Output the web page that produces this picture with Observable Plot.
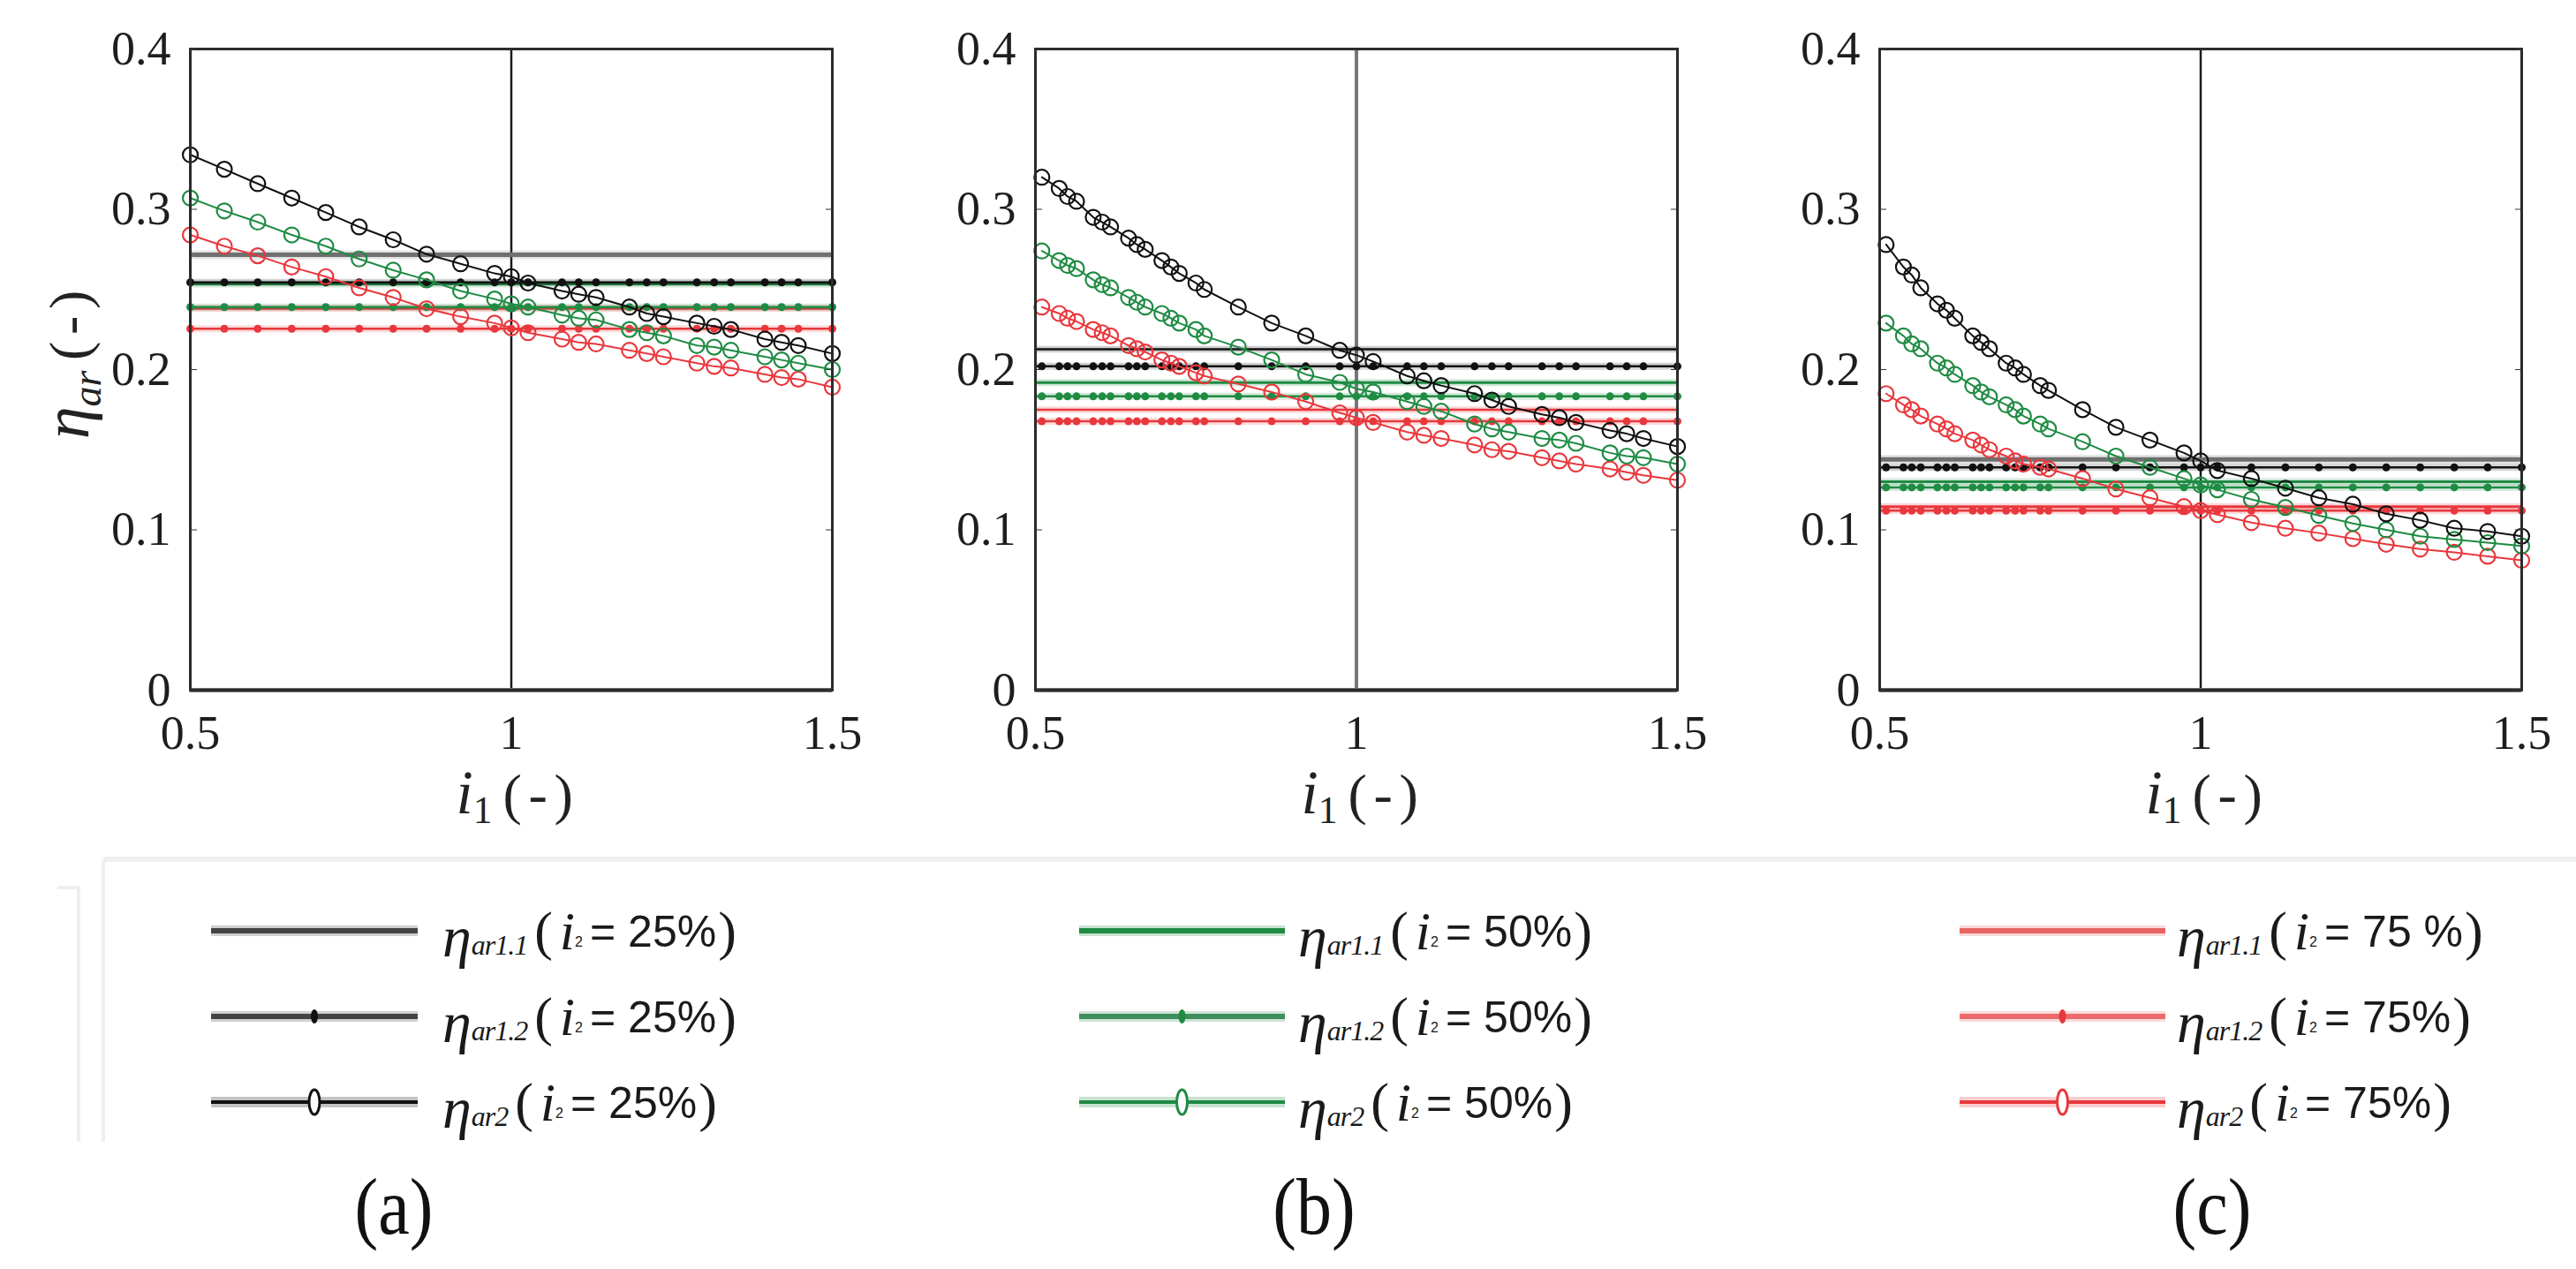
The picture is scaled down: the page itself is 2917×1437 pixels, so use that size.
<!DOCTYPE html>
<html>
<head>
<meta charset="utf-8">
<script src="https://cdn.jsdelivr.net/npm/d3@7"></script>
<script src="https://cdn.jsdelivr.net/npm/@observablehq/plot@0.6"></script>
<style>
  html, body { margin: 0; padding: 0; background: #fff; }
  #page { position: relative; width: 2917px; height: 1437px; overflow: hidden; background: #fff; font-family: "Liberation Serif", "Times New Roman", serif; color: #1a1a1a; }
  .panel { position: absolute; top: 0; }
  .xlab { position: absolute; font-size: 64px; white-space: nowrap; transform: translate(-50%, -50%); line-height: 1; color: #222; }
  .xlab i { font-style: italic; font-size: 1.08em; }
  .xlab sub { font-size: 0.68em; vertical-align: -0.25em; margin-right: 0.28em; }
  .xlab .pp { letter-spacing: 0.12em; }
  .ylab { position: absolute; font-size: 64px; white-space: nowrap; transform: translate(-50%, -50%) rotate(-90deg); line-height: 1; color: #222; }
  .ylab i { font-style: italic; font-size: 1.15em; }
  .ylab sub { font-style: italic; font-size: 0.72em; vertical-align: -0.3em; margin-right: 0.25em; }
  .ylab .pp { letter-spacing: 0.12em; }
  .plabel { position: absolute; font-size: 80px; transform: translate(-50%, -50%) scaleY(1.15); line-height: 1; color: #111; }
  .leg { position: absolute; transform: translateY(-50%); white-space: nowrap; display: flex; align-items: center; color: #1a1a1a; }
  .leg .eta { font-family: "Liberation Serif", serif; font-style: italic; font-size: 66px; line-height: 1; position: relative; top: 6px; }
  .leg .sub { font-family: "Liberation Serif", serif; font-style: italic; font-size: 32px; position: relative; top: 16px; letter-spacing: -1px; }
  .leg .par { font-family: "Liberation Serif", serif; font-size: 62px; margin-left: 8px; }
  .leg .ii { font-family: "Liberation Serif", serif; font-style: italic; font-size: 62px; margin-left: 8px; }
  .leg .sub2 { font-family: "Liberation Sans", sans-serif; font-size: 16px; position: relative; top: 12px; }
  .leg .sans { font-family: "Liberation Sans", Arial, sans-serif; font-size: 50px; margin-left: 8px; }
  .leg .par2 { font-family: "Liberation Serif", serif; font-size: 62px; margin-left: 2px; }
  .swatch { position: absolute; }
  .boxline { position: absolute; background: #efefef; }
</style>
</head>
<body>
<div id="page"></div>
<script>
// ---------- data ----------
const xTicks = [0.5, 1, 1.5];
const yTicks = [0, 0.1, 0.2, 0.3, 0.4];
const ratioLabels = ["25%", "50%", "75%"];
const ratioLabelsRow1 = ["25%", "50%", "75 %"];
const effLabels = ["ar1.1", "ar1.2", "ar2"];
const panelLabels = ["(a)", "(b)", "(c)"];

// panel (a)
const xA = [0.5, 0.553, 0.605, 0.658, 0.711, 0.763, 0.816, 0.868, 0.921, 0.974, 1.0, 1.026, 1.079, 1.105, 1.132, 1.184, 1.211, 1.237, 1.289, 1.316, 1.342, 1.395, 1.421, 1.447, 1.5];
const ar2A_25 = [0.334, 0.325, 0.316, 0.307, 0.298, 0.289, 0.281, 0.272, 0.266, 0.260, 0.258, 0.254, 0.249, 0.247, 0.245, 0.239, 0.235, 0.233, 0.229, 0.227, 0.225, 0.219, 0.217, 0.215, 0.210];
const ar2A_50 = [0.307, 0.299, 0.292, 0.284, 0.277, 0.269, 0.262, 0.256, 0.249, 0.244, 0.241, 0.239, 0.234, 0.232, 0.231, 0.225, 0.223, 0.221, 0.215, 0.214, 0.212, 0.208, 0.206, 0.204, 0.200];
const ar2A_75 = [0.284, 0.277, 0.271, 0.264, 0.258, 0.251, 0.245, 0.238, 0.233, 0.229, 0.226, 0.223, 0.219, 0.217, 0.216, 0.212, 0.210, 0.208, 0.204, 0.202, 0.201, 0.197, 0.195, 0.194, 0.189];
const ar11A = [0.2716, 0.2535, 0.2382];
const ar12A = [0.2544, 0.2390, 0.2255];

// panel (b)
const xB = [0.51, 0.537, 0.550, 0.564, 0.590, 0.604, 0.617, 0.645, 0.658, 0.671, 0.697, 0.711, 0.724, 0.750, 0.763, 0.816, 0.868, 0.921, 0.974, 1.0, 1.026, 1.079, 1.105, 1.132, 1.184, 1.211, 1.237, 1.289, 1.316, 1.342, 1.395, 1.421, 1.447, 1.5];
const ar2B_25 = [0.320, 0.313, 0.308, 0.305, 0.295, 0.292, 0.289, 0.282, 0.278, 0.275, 0.268, 0.264, 0.260, 0.254, 0.250, 0.239, 0.229, 0.221, 0.212, 0.209, 0.205, 0.196, 0.193, 0.190, 0.185, 0.181, 0.177, 0.172, 0.170, 0.167, 0.162, 0.160, 0.157, 0.152];
const ar2B_50 = [0.274, 0.268, 0.265, 0.263, 0.256, 0.253, 0.251, 0.245, 0.242, 0.239, 0.235, 0.232, 0.229, 0.225, 0.221, 0.214, 0.206, 0.197, 0.192, 0.188, 0.186, 0.180, 0.177, 0.174, 0.166, 0.163, 0.161, 0.157, 0.156, 0.154, 0.148, 0.146, 0.145, 0.141];
const ar2B_75 = [0.239, 0.235, 0.232, 0.230, 0.225, 0.223, 0.221, 0.215, 0.213, 0.211, 0.206, 0.204, 0.202, 0.198, 0.196, 0.191, 0.186, 0.180, 0.173, 0.170, 0.167, 0.161, 0.159, 0.157, 0.153, 0.150, 0.149, 0.145, 0.143, 0.141, 0.138, 0.136, 0.134, 0.131];
const ar11B = [0.2127, 0.1919, 0.1750];
const ar12B = [0.2020, 0.1833, 0.1677];

// panel (c)
const xC = [0.51, 0.537, 0.550, 0.564, 0.590, 0.604, 0.617, 0.645, 0.658, 0.671, 0.697, 0.711, 0.724, 0.750, 0.763, 0.816, 0.868, 0.921, 0.974, 1.0, 1.026, 1.079, 1.132, 1.184, 1.237, 1.289, 1.342, 1.395, 1.447, 1.5];
const ar2C_25 = [0.278, 0.264, 0.259, 0.251, 0.241, 0.237, 0.232, 0.221, 0.217, 0.213, 0.204, 0.201, 0.197, 0.190, 0.187, 0.175, 0.164, 0.156, 0.148, 0.143, 0.137, 0.132, 0.126, 0.120, 0.116, 0.110, 0.106, 0.101, 0.099, 0.096];
const ar2C_50 = [0.229, 0.221, 0.216, 0.213, 0.204, 0.201, 0.197, 0.190, 0.186, 0.183, 0.178, 0.175, 0.171, 0.166, 0.163, 0.155, 0.146, 0.139, 0.132, 0.128, 0.125, 0.119, 0.114, 0.109, 0.104, 0.100, 0.096, 0.094, 0.092, 0.090];
const ar2C_75 = [0.185, 0.178, 0.175, 0.171, 0.166, 0.163, 0.160, 0.156, 0.153, 0.150, 0.146, 0.143, 0.141, 0.139, 0.138, 0.132, 0.1255, 0.120, 0.1145, 0.112, 0.1095, 0.1045, 0.101, 0.098, 0.0945, 0.091, 0.088, 0.086, 0.0835, 0.081];
const ar11C = [0.1440, 0.1300, 0.1145];
const ar12C = [0.1390, 0.1265, 0.1120];

// ---------- styles ----------
const BLACK = "#111111", GREEN = "#1f8b43", RED = "#e8383d", GRAY = "#6f6f6f";
const COLORS = [BLACK, GREEN, RED];
const FRAME_LEFT = [215, 1172, 2128];
const ML = 215, FW = 727, MR = 14, MT = 55, FH = 726, MB = 150;
const fmt = d => String(+(+d).toFixed(2));

const panelStyles = [
  { v: { stroke: "#1a1a1a", w: 2.5 }, h11: [ { stroke: GRAY, w: 5 }, { stroke: GREEN, w: 3 }, { stroke: RED, w: 3 } ] },
  { v: { stroke: "#777777", w: 4 }, h11: [ { stroke: BLACK, w: 2.5 }, { stroke: GREEN, w: 3 }, { stroke: RED, w: 2.5 } ] },
  { v: { stroke: "#1a1a1a", w: 2.5 }, h11: [ { stroke: GRAY, w: 5 }, { stroke: GREEN, w: 3 }, { stroke: RED, w: 3 } ] }
];

const panels = [
  { xs: xA, ar2: [ar2A_25, ar2A_50, ar2A_75], ar11: ar11A, ar12: ar12A },
  { xs: xB, ar2: [ar2B_25, ar2B_50, ar2B_75], ar11: ar11B, ar12: ar12B },
  { xs: xC, ar2: [ar2C_25, ar2C_50, ar2C_75], ar11: ar11C, ar12: ar12C }
];

function makePanel(p, st) {
  const marks = [];
  marks.push(Plot.ruleX([1], { stroke: st.v.stroke, strokeWidth: st.v.w }));
  [0, 1, 2].forEach(k => {
    const c = st.h11[k];
    marks.push(Plot.ruleY([p.ar11[k]], { stroke: c.stroke, strokeWidth: c.w + 5, strokeOpacity: 0.2 }));
    marks.push(Plot.ruleY([p.ar11[k]], { stroke: c.stroke, strokeWidth: c.w }));
  });
  [0, 1, 2].forEach(k => {
    const v = p.ar12[k];
    marks.push(Plot.ruleY([v], { stroke: COLORS[k], strokeWidth: 8, strokeOpacity: 0.18 }));
    marks.push(Plot.ruleY([v], { stroke: COLORS[k], strokeWidth: 2.5 }));
    marks.push(Plot.dot(p.xs, { x: d => d, y: () => v, r: 4.5, fill: COLORS[k], stroke: "none" }));
  });
  [2, 1, 0].forEach(k => {
    const rows = p.xs.map((x, i) => ({ x, y: p.ar2[k][i] }));
    marks.push(Plot.line(rows, { x: "x", y: "y", stroke: COLORS[k], strokeWidth: 2 }));
    marks.push(Plot.dot(rows, { x: "x", y: "y", r: 8.5, stroke: COLORS[k], strokeWidth: 2.2, fill: "none" }));
  });
  marks.push(Plot.ruleY([0], { stroke: "#6e6e6e", strokeWidth: 5 }));
  marks.push(Plot.frame({ stroke: "#2b2b2b", strokeWidth: 3 }));
  marks.push(Plot.axisY({ anchor: "left", ticks: yTicks, tickFormat: fmt, tickSize: 8, insetLeft: 8, tickPadding: 22, fontSize: 54, label: null, stroke: "#333" }));
  marks.push(Plot.axisY({ anchor: "right", ticks: yTicks, tickSize: 8, insetRight: 8, tickFormat: () => "", label: null, stroke: "#333" }));
  marks.push(Plot.axisX({ anchor: "bottom", ticks: xTicks, tickFormat: fmt, tickSize: 0, tickPadding: 28, fontSize: 54, label: null }));

  return Plot.plot({
    width: ML + FW + MR,
    height: MT + FH + MB,
    marginLeft: ML, marginRight: MR, marginTop: MT, marginBottom: MB,
    x: { domain: [0.5, 1.5] },
    y: { domain: [0, 0.4] },
    style: { background: "transparent", fontFamily: "Liberation Serif, serif", color: "#1e1e1e", overflow: "visible" },
    marks
  });
}

const page = document.getElementById("page");

panels.forEach((p, i) => {
  const wrap = document.createElement("div");
  wrap.className = "panel";
  wrap.style.left = (FRAME_LEFT[i] - ML) + "px";
  wrap.appendChild(makePanel(p, panelStyles[i]));
  page.appendChild(wrap);

  const xl = document.createElement("div");
  xl.className = "xlab";
  xl.style.left = (FRAME_LEFT[i] + FW / 2 + 8) + "px";
  xl.style.top = "901px";
  xl.innerHTML = '<i>i</i><sub>1</sub><span class="pp">(-)</span>';
  page.appendChild(xl);

  const pl = document.createElement("div");
  pl.className = "plabel";
  pl.style.left = [446, 1488, 2505][i] + "px";
  pl.style.top = "1366px";
  pl.textContent = panelLabels[i];
  page.appendChild(pl);
});

const yl = document.createElement("div");
yl.className = "ylab";
yl.style.left = "80px";
yl.style.top = "409px";
yl.innerHTML = '<i>η</i><sub>ar</sub><span class="pp">(-)</span>';
page.appendChild(yl);

// legend box lines
[
  { l: 117, t: 970, w: 2800, h: 6 },
  { l: 115, t: 973, w: 4, h: 320 },
  { l: 87, t: 1003, w: 4, h: 290 },
  { l: 65, t: 1003, w: 26, h: 4 }
].forEach(b => {
  const d = document.createElement("div");
  d.className = "boxline";
  Object.assign(d.style, { left: b.l + "px", top: b.t + "px", width: b.w + "px", height: b.h + "px" });
  page.appendChild(d);
});

// legend entries
const legCols = [ { x0: 239, x1: 473, tx: 501 }, { x0: 1222, x1: 1455, tx: 1470 }, { x0: 2219, x1: 2452, tx: 2465 } ];
const legRows = [1054, 1151, 1248];
const swatchLine = [ ["#444444", GREEN, "#e86464"], ["#444444", "#3f8f5c", "#ec6a6a"], [BLACK, GREEN, RED] ];
legCols.forEach((col, c) => {
  legRows.forEach((cy, r) => {
    const w = col.x1 - col.x0, h = 40;
    const svg = d3.create("svg").attr("class", "swatch").attr("width", w).attr("height", h)
      .style("left", col.x0 + "px").style("top", (cy - h / 2) + "px");
    const color = swatchLine[r][c];
    svg.append("line").attr("x1", 0).attr("x2", w).attr("y1", h / 2).attr("y2", h / 2)
      .attr("stroke", color).attr("stroke-width", 12).attr("stroke-opacity", 0.25);
    svg.append("line").attr("x1", 0).attr("x2", w).attr("y1", h / 2).attr("y2", h / 2)
      .attr("stroke", color).attr("stroke-width", r === 2 ? 4 : 6);
    if (r === 1) svg.append("ellipse").attr("cx", w / 2).attr("cy", h / 2).attr("rx", 4).attr("ry", 8).attr("fill", COLORS[c]);
    if (r === 2) svg.append("ellipse").attr("cx", w / 2).attr("cy", h / 2).attr("rx", 6).attr("ry", 14).attr("fill", "#fff").attr("stroke", COLORS[c]).attr("stroke-width", 3);
    page.appendChild(svg.node());

    const t = document.createElement("div");
    t.className = "leg";
    t.style.left = col.tx + "px";
    t.style.top = cy + "px";
    const ratio = r === 0 ? ratioLabelsRow1[c] : ratioLabels[c];
    t.innerHTML = '<span class="eta">η</span><span class="sub">' + effLabels[r] + '</span>' +
      '<span class="par">(</span><span class="ii">i</span><span class="sub2">2</span>' +
      '<span class="sans">= ' + ratio + '</span><span class="par2">)</span>';
    page.appendChild(t);
  });
});
</script>
</body>
</html>
